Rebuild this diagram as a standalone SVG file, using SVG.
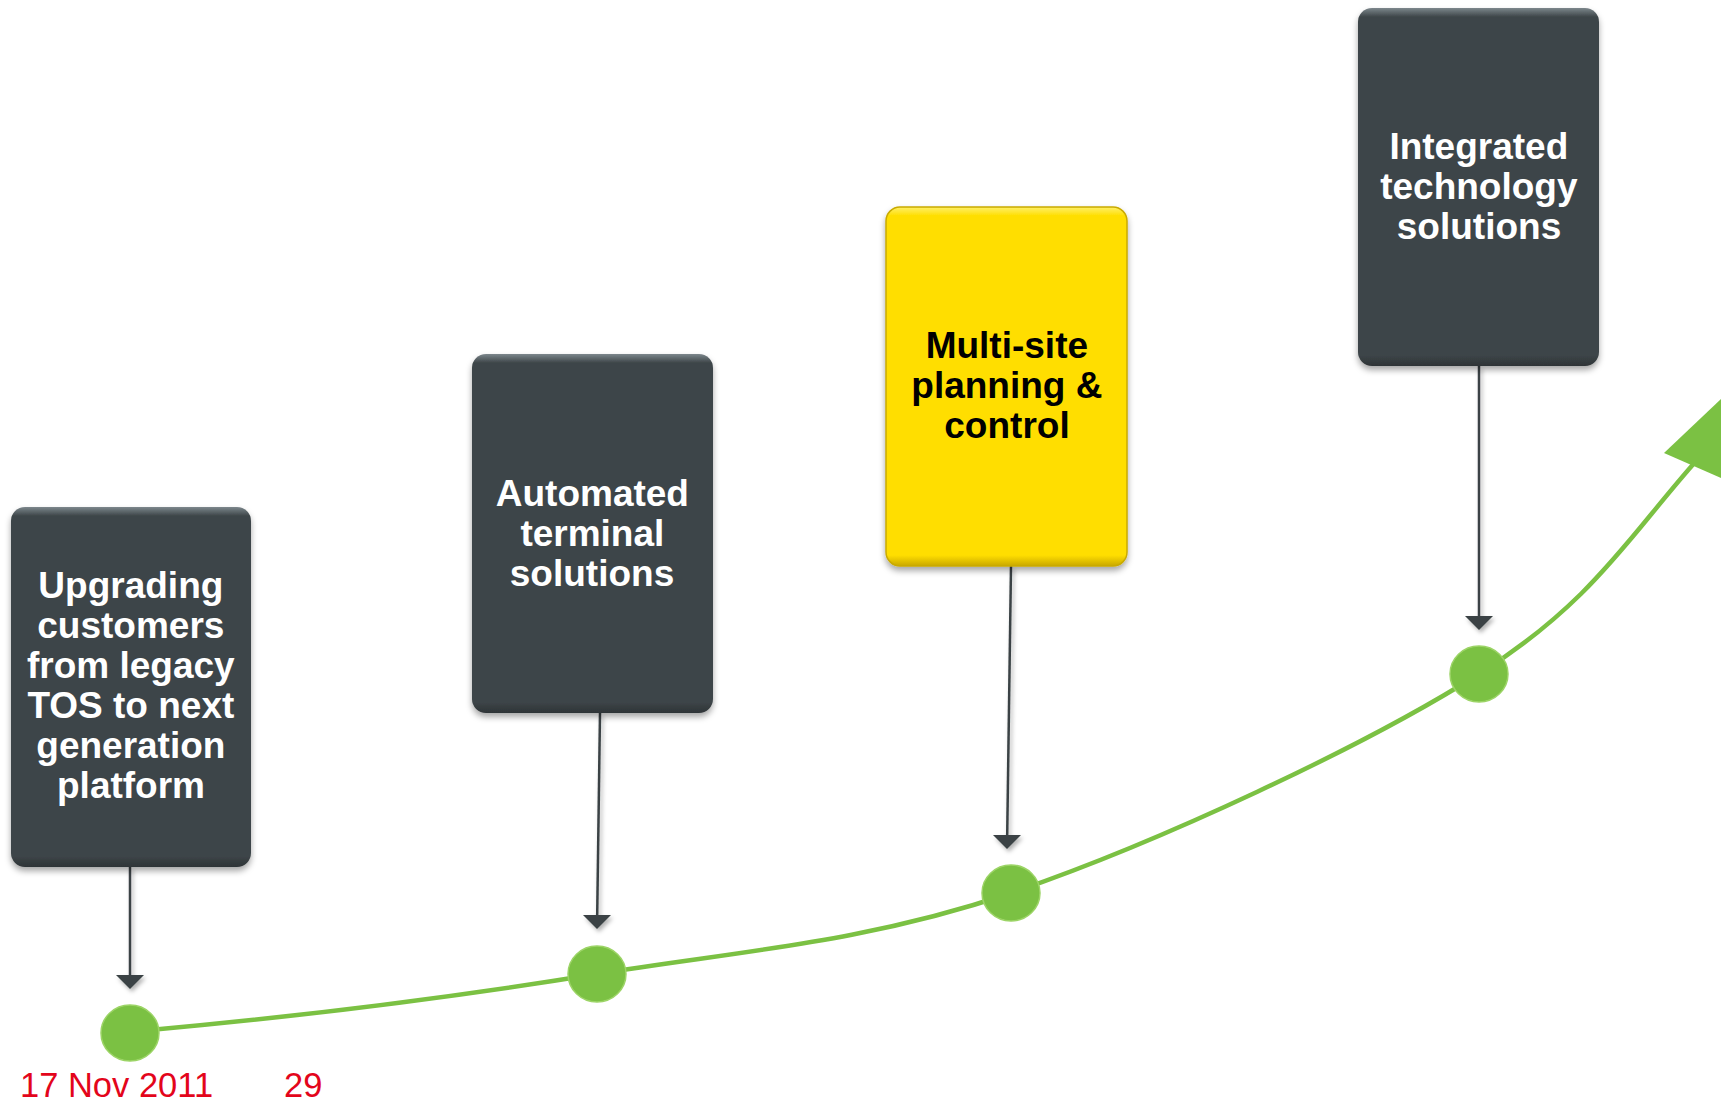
<svg xmlns="http://www.w3.org/2000/svg" width="1729" height="1101" viewBox="0 0 1729 1101">
  <defs>
    <style>
      .dark { fill: url(#gDark); }
      .yel { fill: url(#gYel); stroke: #c9aa00; stroke-width: 1.5; }
      .lbl { font-family: "Liberation Sans", Arial, sans-serif; font-weight: bold; font-size: 37px; text-anchor: middle; }
      .w { fill: #ffffff; }
      .k { fill: #000000; }
      .conn { stroke: #3a4245; stroke-width: 2.5; fill: none; }
      .dot { fill: #7bc143; stroke: #9cd466; stroke-width: 1.5; }
      .foot { font-family: "Liberation Sans", Arial, sans-serif; font-size: 34.5px; fill: #e3051b; }
    </style>
    <linearGradient id="gDark" x1="0" y1="0" x2="0" y2="1">
      <stop offset="0" stop-color="#7d878c"/>
      <stop offset="0.025" stop-color="#3d4548"/>
      <stop offset="0.97" stop-color="#3d4548"/>
      <stop offset="1" stop-color="#2e3437"/>
    </linearGradient>
    <linearGradient id="gYel" x1="0" y1="0" x2="0" y2="1">
      <stop offset="0" stop-color="#fff06a"/>
      <stop offset="0.025" stop-color="#ffde00"/>
      <stop offset="0.97" stop-color="#ffde00"/>
      <stop offset="1" stop-color="#c9a800"/>
    </linearGradient>
    <filter id="sh" x="-20%" y="-20%" width="140%" height="140%">
      <feDropShadow dx="0" dy="4" stdDeviation="3" flood-color="#000" flood-opacity="0.35"/>
    </filter>
    <filter id="sh2" x="-50%" y="-10%" width="200%" height="130%">
      <feDropShadow dx="2" dy="3" stdDeviation="2" flood-color="#000" flood-opacity="0.3"/>
    </filter>
  </defs>

  <g id="connectors" filter="url(#sh2)">
    <path class="conn" d="M130,867 L130,975"/>
    <polygon points="116,975 144,975 130,989" fill="#3a4245"/>
    <path class="conn" d="M600,713 L597.2,915"/>
    <polygon points="583,915 611,915 597,929" fill="#3a4245"/>
    <path class="conn" d="M1011,566 L1007.2,835"/>
    <polygon points="993,835 1021,835 1007,849" fill="#3a4245"/>
    <path class="conn" d="M1479,366 L1479,616"/>
    <polygon points="1465,616 1493,616 1479,630" fill="#3a4245"/>
  </g>

  <g id="timeline">
    <path d="M150,1030 C304,1016 455,997 597,974 C739,951 864,943 1011,893 C1158,843 1365,746 1479,674 C1593,602 1630,535 1697,460" fill="none" stroke="#7bc143" stroke-width="4.5"/>
    <polygon points="1721,399 1664,453 1721,478" fill="#7bc143"/>
  </g>

  <g id="node1">
    <rect x="11" y="507" width="240" height="360" rx="14" class="dark" filter="url(#sh)"/>
    <text class="lbl w">
      <tspan x="136" y="598">Upgrading</tspan>
      <tspan x="136" y="638">customers</tspan>
      <tspan x="136" y="678">from legacy</tspan>
      <tspan x="136" y="718">TOS to next</tspan>
      <tspan x="136" y="758">generation</tspan>
      <tspan x="131" y="798">platform</tspan>
    </text>
  </g>

  <g id="node2">
    <rect x="472" y="354" width="241" height="359" rx="14" class="dark" filter="url(#sh)"/>
    <text class="lbl w">
      <tspan x="597.5" y="506">Automated</tspan>
      <tspan x="597.5" y="546">terminal</tspan>
      <tspan x="592" y="586">solutions</tspan>
    </text>
  </g>

  <g id="node3">
    <rect x="886" y="207" width="241" height="359" rx="14" class="yel" filter="url(#sh)"/>
    <text class="lbl k">
      <tspan x="1012" y="358">Multi-site</tspan>
      <tspan x="1012" y="398">planning &amp;</tspan>
      <tspan x="1007" y="438">control</tspan>
    </text>
  </g>

  <g id="node4">
    <rect x="1358" y="8" width="241" height="358" rx="14" class="dark" filter="url(#sh)"/>
    <text class="lbl w">
      <tspan x="1484" y="159">Integrated</tspan>
      <tspan x="1484" y="199">technology</tspan>
      <tspan x="1479" y="239">solutions</tspan>
    </text>
  </g>

  <g id="milestones">
    <ellipse class="dot" cx="130" cy="1033" rx="29" ry="28"/>
    <ellipse class="dot" cx="597" cy="974" rx="29" ry="28"/>
    <ellipse class="dot" cx="1011" cy="893" rx="29" ry="28"/>
    <ellipse class="dot" cx="1479" cy="674" rx="29" ry="28"/>
  </g>

  <g id="footer">
    <text class="foot" x="20" y="1097">17 Nov 2011</text>
    <text class="foot" x="284" y="1097">29</text>
  </g>
</svg>
